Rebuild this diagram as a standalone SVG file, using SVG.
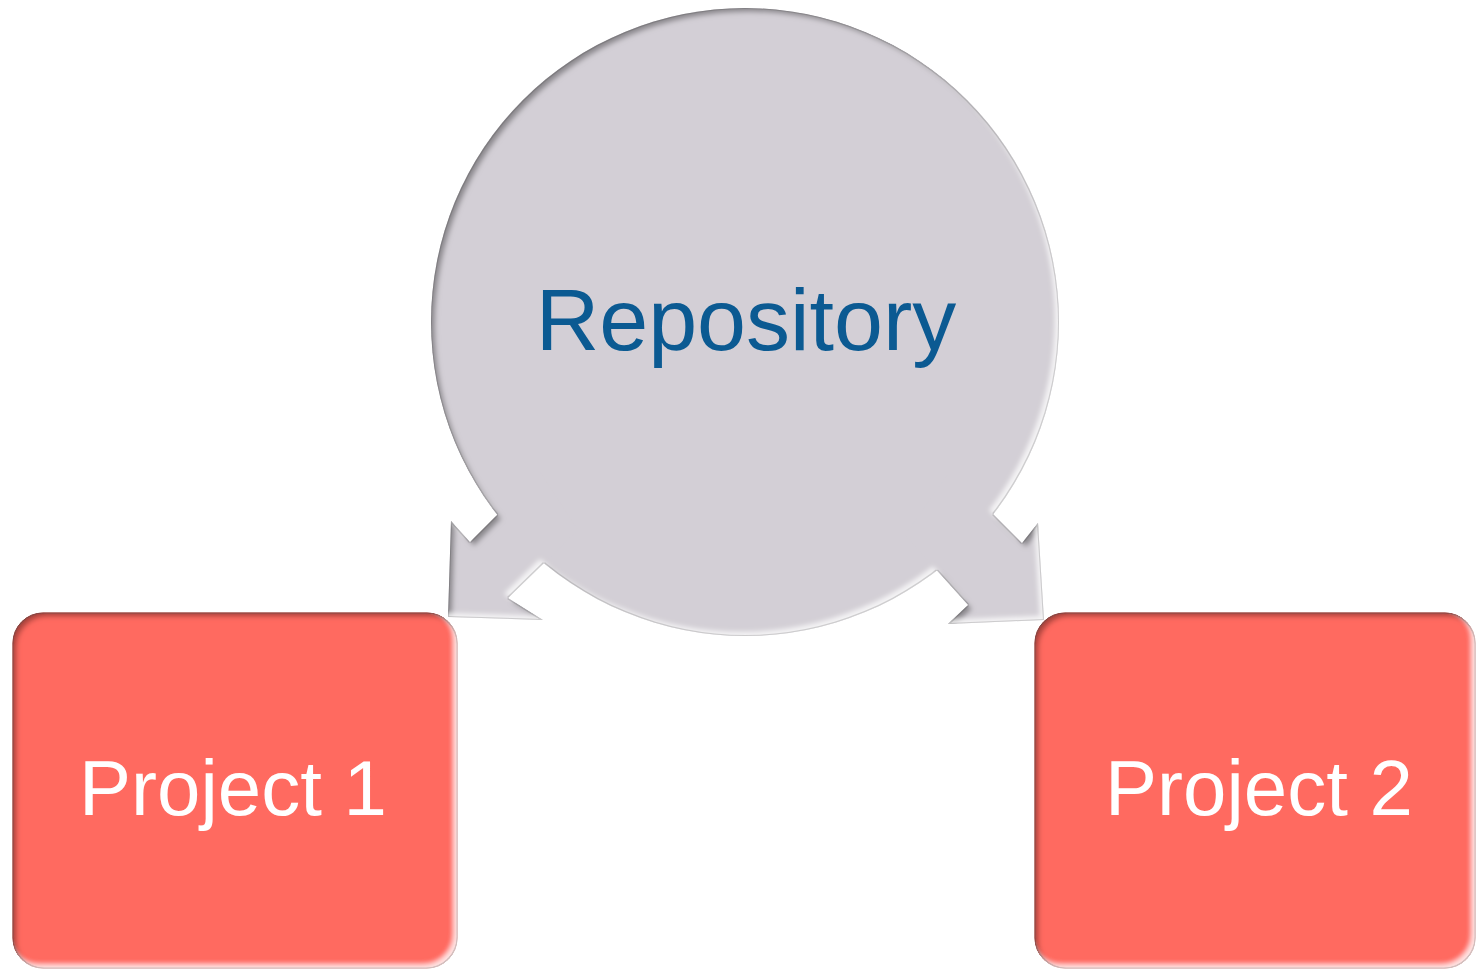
<svg xmlns="http://www.w3.org/2000/svg" width="1476" height="969" viewBox="0 0 1476 969">
<style>
.lbl{font-family:"Liberation Sans",Arial,sans-serif;text-anchor:middle}
.box{fill:#FF6B60;stroke:#D9574D;stroke-width:1}
.repo{fill:#D3CFD6}
</style>
<defs>
<filter id="bevel" x="-5%" y="-5%" width="110%" height="110%">
<feGaussianBlur in="SourceAlpha" stdDeviation="2.5" result="b"/>
<feOffset in="b" dx="4" dy="4" result="s1"/>
<feComposite in="SourceAlpha" in2="s1" operator="arithmetic" k2="1" k3="-1" result="e1"/>
<feFlood flood-color="#000" flood-opacity="0.6"/>
<feComposite in2="e1" operator="in" result="dark"/>
<feOffset in="b" dx="-4" dy="-4" result="s2"/>
<feComposite in="SourceAlpha" in2="s2" operator="arithmetic" k2="1" k3="-1" result="e2"/>
<feFlood flood-color="#fff" flood-opacity="0.75"/>
<feComposite in2="e2" operator="in" result="light"/>
<feMorphology in="SourceAlpha" operator="erode" radius="1" result="er"/>
<feComposite in="SourceAlpha" in2="er" operator="out" result="rim"/>
<feFlood flood-color="#555" flood-opacity="0.35"/>
<feComposite in2="rim" operator="in" result="rimc"/>
<feMerge><feMergeNode in="SourceGraphic"/><feMergeNode in="dark"/><feMergeNode in="light"/><feMergeNode in="rimc"/></feMerge>
</filter>
</defs>
<g id="connectors">
</g>
<g id="repository" filter="url(#bevel)">
<circle class="repo" cx="745" cy="322" r="314"/>
<polygon class="repo" points="448,617 451,521 470,542 540,472 578,530 508,598 543,620"/>
<polygon class="repo" points="1044,620 1038,523 1022,543 950,471 905,535 968,605 948,624"/>
</g>
<text class="lbl" x="746" y="350" font-size="88" fill="#0B5A92">Repository</text>
<g id="project1">
<rect class="box" x="13" y="613" width="444" height="355" rx="30" filter="url(#bevel)"/>
<text class="lbl" x="233" y="815" font-size="78" fill="#fff">Project 1</text>
</g>
<g id="project2">
<rect class="box" x="1035" y="613" width="440" height="355" rx="30" filter="url(#bevel)"/>
<text class="lbl" x="1259" y="815" font-size="78" fill="#fff">Project 2</text>
</g>
</svg>
